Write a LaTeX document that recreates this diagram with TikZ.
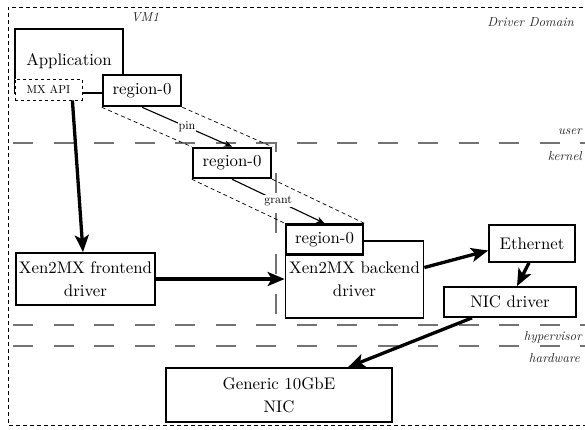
\documentclass[tikz,border=0pt]{standalone}
\usepackage{fontspec}
\setmainfont{lmroman10-regular.otf}[ItalicFont=lmroman10-italic.otf]
\usetikzlibrary{arrows.meta,calc}
\begin{document}
\begin{tikzpicture}[x=1pt,y=-1pt,
  box/.style={draw, line width=1.7pt, align=center, inner sep=0pt,
    font=\fontsize{16.8}{23}\selectfont},
  regbox/.style={box, line width=2.5pt, fill=white},
  apibox/.style={draw, dashed, line width=0.8pt, fill=white, inner sep=0pt,
    font=\fontsize{11.5}{13}\selectfont},
  bigarrow/.style={line width=3.3pt, -{Stealth[length=17pt,width=14pt,inset=4pt]}},
  thinarrow/.style={line width=1.1pt, -{Stealth[length=8pt,width=6.5pt]}},
  steplabel/.style={fill=white, inner sep=1pt, font=\fontsize{12}{13}\selectfont},
  layer/.style={black!55, line width=1.2pt, dash pattern=on 20pt off 20.5pt},
  frame/.style={line width=0.8pt, dash pattern=on 4pt off 3pt},
  shadow/.style={line width=0.7pt, dash pattern=on 4pt off 3pt},
  tag/.style={font=\fontsize{13}{15}\selectfont\itshape, text=black!85, inner sep=0pt}]

\useasboundingbox (0,0) rectangle (585,429);

% domain frame
\draw[frame] (590,7) -- (8,7) -- (8,425) -- (590,425);
\node[tag, anchor=base] (vm) at (145,21) {VM1};
\node[tag, anchor=base east] (dd) at (574,26) {Driver Domain};

% privilege layers
\draw[layer] (13,143) -- (590,143);
\draw[layer] (13,325) -- (590,325);
\draw[layer] (13,346) -- (590,346);
\draw[layer] (265,143) -- (276,143) -- (276,325) -- (265,325);
\node[tag, anchor=base east] (luser) at (582,134) {user};
\node[tag, anchor=base east] (lkern) at (582,160) {kernel};
\node[tag, anchor=base east] (lhyp) at (582,340) {hypervisor};
\node[tag, anchor=base east] (lhw) at (580,362) {hardware};

% application and its pinned region
\node[box, minimum width=108pt, minimum height=64pt] (app) at (69,61) {Application};
\node[regbox, minimum width=78pt, minimum height=31pt] (reg1) at (142,90.5) {region-0};
\node[apibox, minimum width=67pt, minimum height=21pt] (api) at (48.5,89.5) {MX API};
\draw[line width=1.8pt] ([yshift=-3pt]api.east) -- ([yshift=-3pt]api.east -| reg1.west);

% region passed down to the kernel and granted to the backend
\node[regbox, minimum width=78pt, minimum height=30pt] (reg2) at (232,163) {region-0};
\node[box, minimum width=138pt, minimum height=77pt] (back) at (354.5,279.5) {Xen2MX backend\\driver};
\node[regbox, minimum width=77pt, minimum height=30pt] (reg3) at (324.5,239.5) {region-0};

\draw[shadow] (reg1.south west) -- (reg2.north west);
\draw[shadow] (reg1.south east) -- (reg2.north east);
\draw[shadow] (reg2.south west) -- (reg3.north west);
\draw[shadow] (reg2.south east) -- (reg3.north east);
\draw[thinarrow] (reg1.south) -- node[steplabel] {pin} (reg2.north);
\draw[thinarrow] (reg2.south) -- node[steplabel] {grant} (reg3.north);

% drivers and device
\node[box, minimum width=139pt, minimum height=52pt] (front) at (85.5,279) {Xen2MX frontend\\driver};
\node[box, minimum width=86pt, minimum height=37pt] (eth) at (532,243.5) {Ethernet};
\node[box, minimum width=132pt, minimum height=30pt] (nic) at (510,302) {NIC driver};
\node[box, minimum width=226pt, minimum height=54pt] (hw) at (279,395) {Generic 10GbE\\NIC};

% data path
\draw[bigarrow] ([xshift=-10pt]api.south east) -- ([xshift=-2.5pt]front.north);
\draw[bigarrow] (front.east) -- (front.east -| back.west);
\draw[bigarrow] ([yshift=12pt]back.east) -- ([yshift=-7pt]eth.west);
\draw[bigarrow] ([xshift=-3pt]eth.south) -- ([xshift=7pt]nic.north);
\draw[bigarrow] ([xshift=-38pt]nic.south) -- ([xshift=69pt]hw.north);
\end{tikzpicture}
\end{document}
